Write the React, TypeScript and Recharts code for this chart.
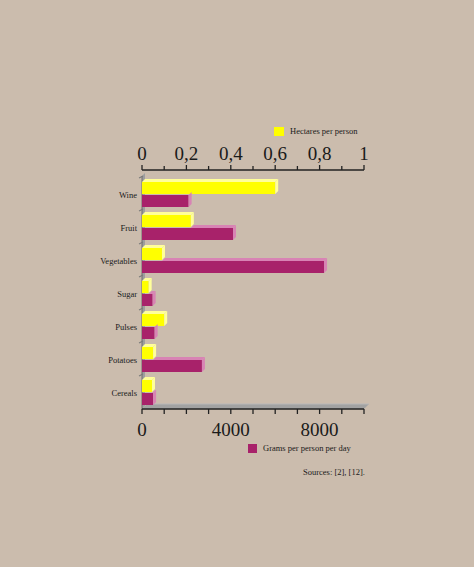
import React from 'react';
import { BarChart, Bar, XAxis, YAxis, ReferenceArea } from 'recharts';

const categories = ['Wine', 'Fruit', 'Vegetables', 'Sugar', 'Pulses', 'Potatoes', 'Cereals'];
const hectaresPerPerson = [0.6, 0.22, 0.09, 0.03, 0.1, 0.05, 0.045];
const gramsPerPersonPerDay = [2100, 4100, 8200, 480, 570, 2700, 500];

const hectareTicks = [0, 0.1, 0.2, 0.3, 0.4, 0.5, 0.6, 0.7, 0.8, 0.9, 1];
const hectareLabels: Record<string, string> = { '0': '0', '0.2': '0,2', '0.4': '0,4', '0.6': '0,6', '0.8': '0,8', '1': '1' };
const gramTicks = [0, 1000, 2000, 3000, 4000, 5000, 6000, 7000, 8000, 9000, 10000];
const gramLabels: Record<string, string> = { '0': '0', '4000': '4000', '8000': '8000' };

const HECT_MAX = 1;
const GRAM_MAX = 10000;

const data = categories.map((c, i) => ({
  category: c,
  hectares: hectaresPerPerson[i],
  grams: gramsPerPersonPerDay[i],
}));

const BG = '#cbbcad';
const YELLOW = '#ffff00';
const YELLOW_LIGHT = '#ffff9a';
const MAGENTA = '#a8226a';
const PINK = '#d883b4';
const FONT = '"Liberation Serif", "Times New Roman", serif';
const D = 3;

function YellowBar(p: any) {
  const { x, y, width: w, height: h } = p;
  if (!w || w <= 0) return null;
  return (
    <g>
      <rect x={x} y={y} width={w} height={h} fill={YELLOW} />
      <polygon points={`${x},${y} ${x + D},${y - D} ${x + w + D},${y - D} ${x + w},${y}`} fill={YELLOW_LIGHT} />
      <polygon points={`${x + w},${y} ${x + w + D},${y - D} ${x + w + D},${y + h - D} ${x + w},${y + h}`} fill={YELLOW_LIGHT} />
    </g>
  );
}

function MagentaBar(p: any) {
  const { x, y, width: w, height: h, payload } = p;
  if (!w || w <= 0) return null;
  const plotW = (w / payload.grams) * GRAM_MAX;
  const yw = (payload.hectares / HECT_MAX) * plotW;
  return (
    <g>
      <rect x={x} y={y} width={w} height={h} fill={MAGENTA} />
      {w > yw ? (
        <polygon points={`${x + yw},${y} ${x + yw + D},${y - D} ${x + w + D},${y - D} ${x + w},${y}`} fill={PINK} />
      ) : null}
      <polygon points={`${x + w},${y} ${x + w + D},${y - D} ${x + w + D},${y + h - D} ${x + w},${y + h}`} fill={PINK} />
    </g>
  );
}

function FloorWall(p: any) {
  const { x, y, width: w, height: h } = p;
  const yb = y + h;
  const F = 5;
  const n = categories.length;
  const band = h / n;
  const ticks = [];
  for (let i = 0; i < n; i++) {
    const ty = y + i * band;
    ticks.push(<line key={i} x1={x - 3} y1={ty} x2={x + 1} y2={ty - 2} stroke="#7a7a7a" strokeWidth={1.2} />);
  }
  return (
    <g>
      <polygon points={`${x},${yb} ${x},${y - 2} ${x + D},${y - 2 - D} ${x + D},${yb - D}`} fill="#9e9e9e" />
      <line x1={x} y1={y - 2} x2={x} y2={yb} stroke="#6e6e6e" strokeWidth={1} />
      <polygon points={`${x},${yb} ${x + F},${yb - F} ${x + w + F},${yb - F} ${x + w},${yb}`} fill="#a2a2a2" />
      <line x1={x + F} y1={yb - F} x2={x + w + F} y2={yb - F} stroke="#b8b8b8" strokeWidth={1} />
      {ticks}
    </g>
  );
}

function TopTick(p: any) {
  const { x, y, payload } = p;
  const v = payload.value;
  const key = String(Math.round(v * 10) / 10);
  const label = hectareLabels[key];
  const major = label !== undefined;
  return (
    <g>
      <line x1={x} y1={y} x2={x} y2={y - (major ? 5 : 4)} stroke="#222" strokeWidth={1.3} />
      {major ? (
        <text x={x} y={y - 10} textAnchor="middle" fontSize={19} fontFamily={FONT} fill="#1a1a1a">
          {label}
        </text>
      ) : null}
    </g>
  );
}

function BottomTick(p: any) {
  const { x, y, payload } = p;
  const label = gramLabels[String(payload.value)];
  return (
    <g>
      <line x1={x} y1={y} x2={x} y2={y + 5} stroke="#222" strokeWidth={1.3} />
      {label !== undefined ? (
        <text x={x} y={y + 27} textAnchor="middle" fontSize={19} fontFamily={FONT} fill="#1a1a1a">
          {label}
        </text>
      ) : null}
    </g>
  );
}

function CatTick(p: any) {
  const { x, y, payload } = p;
  return (
    <text x={x - 5} y={y} textAnchor="end" dominantBaseline="central" fontSize={8.5} fontFamily={FONT} fill="#1a1a1a">
      {payload.value}
    </text>
  );
}

const legendText: React.CSSProperties = {
  position: 'absolute',
  fontFamily: FONT,
  fontSize: 8.5,
  color: '#1a1a1a',
  lineHeight: '10px',
  whiteSpace: 'nowrap',
};

export default function App() {
  return (
    <div style={{ position: 'fixed', left: 0, top: 0, width: 474, height: 567, background: BG, overflow: 'hidden' }}>
      <BarChart
        width={474}
        height={567}
        data={data}
        layout="vertical"
        margin={{ top: 140, right: 110, bottom: 128, left: 82 }}
        barSize={12}
        barGap={1}
      >
        <XAxis
          xAxisId="h"
          orientation="top"
          type="number"
          domain={[0, HECT_MAX]}
          ticks={hectareTicks}
          interval={0}
          height={30}
          tickSize={0}
          tickMargin={0}
          tickLine={false}
          axisLine={{ stroke: '#222', strokeWidth: 1.3 }}
          tick={(p: any) => <TopTick {...p} />}
        />
        <XAxis
          xAxisId="g"
          orientation="bottom"
          type="number"
          domain={[0, GRAM_MAX]}
          ticks={gramTicks}
          interval={0}
          height={30}
          tickSize={0}
          tickMargin={0}
          tickLine={false}
          axisLine={{ stroke: '#222', strokeWidth: 1.3 }}
          tick={(p: any) => <BottomTick {...p} />}
        />
        <YAxis
          type="category"
          dataKey="category"
          width={60}
          padding={{ top: 8, bottom: 0 }}
          axisLine={false}
          tickLine={false}
          tickSize={0}
          tickMargin={0}
          interval={0}
          tick={(p: any) => <CatTick {...p} />}
        />
        <ReferenceArea xAxisId="g" x1={0} x2={GRAM_MAX} fill="none" stroke="none" shape={(p: any) => <FloorWall {...p} />} />
        <Bar xAxisId="h" dataKey="hectares" isAnimationActive={false} shape={(p: any) => <YellowBar {...p} />} />
        <Bar xAxisId="g" dataKey="grams" isAnimationActive={false} shape={(p: any) => <MagentaBar {...p} />} />
      </BarChart>

      <div style={{ position: 'absolute', left: 274, top: 127, width: 10, height: 9, background: YELLOW }} />
      <div style={{ ...legendText, left: 290, top: 126 }}>Hectares per person</div>

      <div style={{ position: 'absolute', left: 248, top: 444, width: 9, height: 9, background: MAGENTA }} />
      <div style={{ ...legendText, left: 263, top: 443 }}>Grams per person per day</div>

      <div style={{ ...legendText, left: 303, top: 467 }}>Sources: [2], [12].</div>
    </div>
  );
}
